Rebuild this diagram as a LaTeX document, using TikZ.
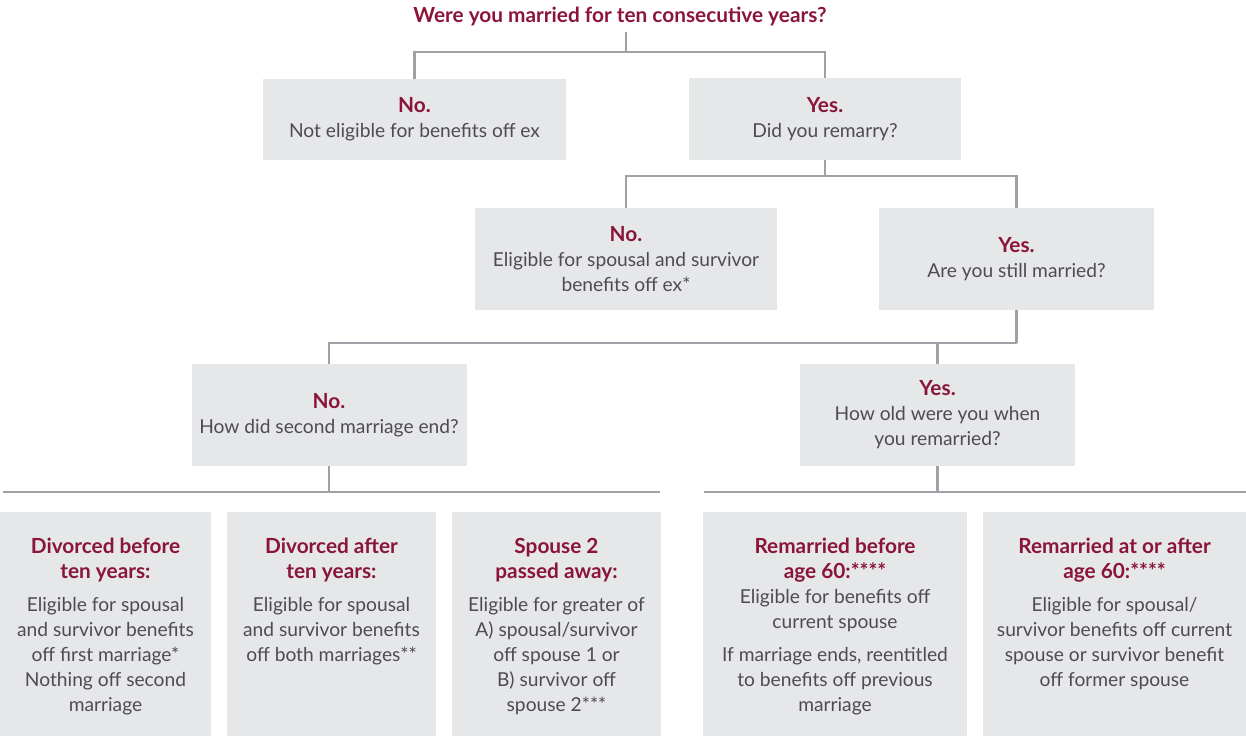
\documentclass[tikz,border=0pt]{standalone}
\usepackage{fontspec}
\setmainfont{Lato}
\definecolor{maroon}{RGB}{138,21,56}
\definecolor{boxgray}{RGB}{230,231,232}
\definecolor{linegray}{RGB}{158,161,166}
\definecolor{txtgray}{RGB}{77,77,79}
\newcommand\hd[1]{{\fontsize{15.6pt}{18.75pt}\selectfont\textcolor{maroon}{\bfseries #1}}}
\newcommand\bodyfnt{\fontsize{14.4pt}{18.75pt}\selectfont}
\tikzset{
  box/.style={fill=boxgray, inner sep=0pt, align=center, font=\bodyfnt, text=txtgray},
  txt/.style={inner sep=0pt, align=center, font=\bodyfnt, text=txtgray},
  conn/.style={draw=linegray, line width=2pt}
}
\begin{document}
\begin{tikzpicture}[x=0.75pt,y=-0.75pt]
\useasboundingbox (0,0) rectangle (1246,736);
% title
\node[txt] (t) at (620,17) {\hd{Were you married for ten consecutive years?}};
% level 1
\node[box, minimum width=227.25pt, minimum height=60.75pt] (no1) at (414.5,119.5) {\hd{No.}\\ Not eligible for benefits off ex};
\node[box, minimum width=204pt, minimum height=61.5pt] (yes1) at (825,119) {\hd{Yes.}\\ Did you remarry?};
% level 2
\node[box, minimum width=226.5pt, minimum height=76.5pt] (no2) at (626,259) {\hd{No.}\\ Eligible for spousal and survivor\\ benefits off ex*};
\node[box, minimum width=206.25pt, minimum height=76.5pt] (yes2) at (1016.5,259) {\hd{Yes.}\\ Are you still married?};
% level 3
\node[box, minimum width=206.25pt, minimum height=76.5pt] (no3) at (329,415) {\hd{No.}\\ How did second marriage end?};
\node[box, minimum width=206.25pt, minimum height=76.5pt] (yes3) at (937.5,415) {\hd{Yes.}\\ How old were you when\\ you remarried?};
% bottom boxes
\node[box, minimum width=158.25pt, minimum height=168pt] (b1) at (105.5,624) {};
\node[box, minimum width=156.75pt, minimum height=168pt] (b2) at (331.5,624) {};
\node[box, minimum width=156.75pt, minimum height=168pt] (b3) at (556.5,624) {};
\node[box, minimum width=198pt, minimum height=168pt] (b4) at (835,624) {};
\node[box, minimum width=197.25pt, minimum height=168pt] (b5) at (1114.5,624) {};
\node[txt, anchor=north] (b1t) at ([yshift=-19.5pt]b1.north) {\hd{Divorced before}\\ \hd{ten years:}\\[6pt] Eligible for spousal\\ and survivor benefits\\ off first marriage*\\ Nothing off second\\ marriage};
\node[txt, anchor=north] (b2t) at ([yshift=-19.5pt]b2.north) {\hd{Divorced after}\\ \hd{ten years:}\\[6pt] Eligible for spousal\\ and survivor benefits\\ off both marriages**};
\node[txt, anchor=north] (b3t) at ([yshift=-19.5pt]b3.north) {\hd{Spouse 2}\\ \hd{passed away:}\\[6pt] Eligible for greater of\\ A) spousal/survivor\\ off spouse 1 or\\ B) survivor off\\ spouse 2***};
\node[txt, anchor=north] (b4t) at ([yshift=-19.5pt]b4.north) {\hd{Remarried before}\\ \hd{age 60:****}\\ Eligible for benefits off\\ current spouse\\[6pt] If marriage ends, reentitled\\ to benefits off previous\\ marriage};
\node[txt, anchor=north] (b5t) at ([yshift=-19.5pt]b5.north) {\hd{Remarried at or after}\\ \hd{age 60:****}\\[6pt] Eligible for spousal/\\ survivor benefits off current\\ spouse or survivor benefit\\ off former spouse};
% junction coordinates
\coordinate (j1) at (626,52);
\coordinate (j2) at (825,176);
\coordinate (j3) at (1016.5,343);
\coordinate (hl1) at (3,492);
\coordinate (hl2) at (660,492);
\coordinate (hr1) at (704,492);
\coordinate (hr2) at (1246,492);
% connectors
\draw[conn] (j1 |- t.south) ++(0,5) -- (j1);
\draw[conn] (no1.north) -- (no1.north |- j1) -- (yes1.north |- j1) -- (yes1.north);
\draw[conn] (yes1.south) -- (j2);
\draw[conn] (no2.north) -- (no2.north |- j2) -- (yes2.north |- j2) -- (yes2.north);
\draw[conn] (yes2.south) -- (j3);
\draw[conn] (no3.north) -- (no3.north |- j3) -- (j3);
\draw[conn] (yes3.north) -- (yes3.north |- j3);
\draw[conn] (no3.south) -- (no3.south |- hl1);
\draw[conn] (yes3.south) -- (yes3.south |- hr1);
\draw[conn] (hl1) -- (hl2);
\draw[conn] (hr1) -- (hr2);
\end{tikzpicture}
\end{document}
